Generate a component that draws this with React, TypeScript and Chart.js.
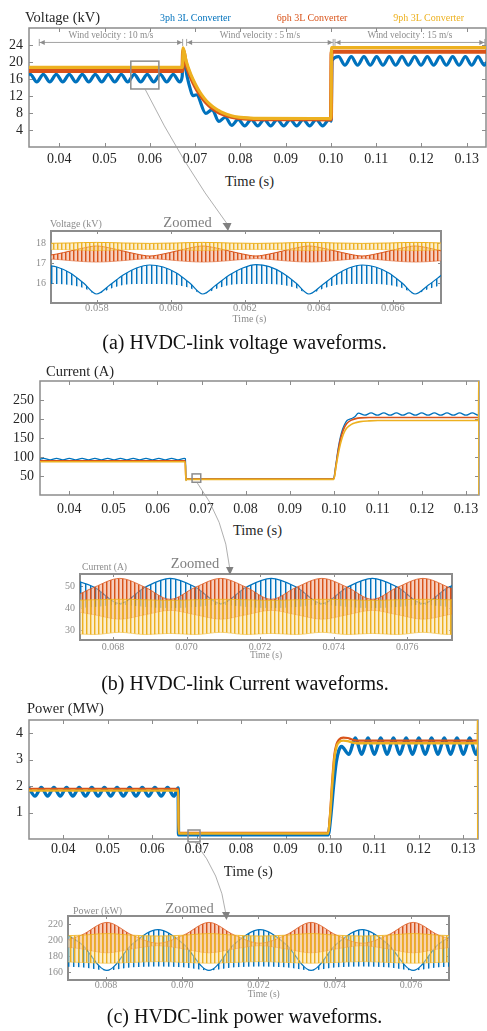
import React, { useEffect, useRef } from "react";
import { Chart, registerables } from "chart.js";
Chart.register(...registerables);

const SERIF = "'Liberation Serif', 'Times New Roman', 'DejaVu Serif', serif";
Chart.defaults.font.family = SERIF;

const BLUE = "#0072BD";
const ORANGE = "#D95319";
const YELLOW = "#EDB120";
const GRAY = "#8c8c8c";
const DARK = "#262626";

// ---------------- data ----------------
const seriesNames = ["3ph 3L Converter", "6ph 3L Converter", "9ph 3L Converter"];

const mainTimeTicks = [0.04, 0.05, 0.06, 0.07, 0.08, 0.09, 0.1, 0.11, 0.12, 0.13];
const voltageTicks = [4, 8, 12, 16, 20, 24];
const currentTicks = [50, 100, 150, 200, 250];
const powerTicks = [1, 2, 3, 4];
const zoomVTimeTicks = [0.058, 0.06, 0.062, 0.064, 0.066];
const zoomVTicks = [16, 17, 18];
const zoomITimeTicks = [0.068, 0.07, 0.072, 0.074, 0.076];
const zoomITicks = [30, 40, 50];
const zoomPTimeTicks = [0.068, 0.07, 0.072, 0.074, 0.076];
const zoomPTicks = [160, 180, 200, 220];

const windSegments = [
  [0.03558, 0.06725],
  [0.06813, 0.1005],
  [0.1009, 0.134],
];
const windLabels = ["Wind velocity : 10 m/s", "Wind velocity : 5 m/s", "Wind velocity : 15 m/s"];
const windArrowLevel = 24.6;
const windTextLevel = 25.75;

// zoom windows marked on main plots: [t0, t1, y0, y1]
const zoomBoxV = [0.0558, 0.062, 13.65, 20.2];
const zoomBoxI = [0.06785, 0.06982, 33.5, 55.5];
const zoomBoxP = [0.06806, 0.07076, -0.11, 0.34];

// HVDC-link voltage (kV)
const vBlue = [
  [0.0333, 17.0], [0.0336, 17.1], [0.03503, 15.3], [0.03647, 17.1], [0.0379, 15.3], [0.03934, 17.1],
  [0.04077, 15.3], [0.04221, 17.1], [0.04364, 15.3], [0.04508, 17.1], [0.04651, 15.3], [0.04795, 17.1],
  [0.04938, 15.3], [0.05082, 17.1], [0.05225, 15.3], [0.05369, 17.1], [0.05512, 15.3], [0.05656, 17.1],
  [0.05799, 15.3], [0.05943, 17.1], [0.06086, 15.3], [0.0623, 17.1], [0.06373, 15.3], [0.06517, 17.1],
  [0.0666, 15.3], [0.06715, 16.6], [0.0673, 21.6], [0.0677, 19.6], [0.0683, 16.3], [0.0689, 13.8],
  [0.06948, 12.1], [0.0703, 12.3], [0.07235, 7.9], [0.07379, 8.8], [0.07522, 6.0], [0.07666, 7.0],
  [0.07809, 5.1], [0.07953, 6.5], [0.08096, 4.95], [0.0824, 6.5], [0.08383, 4.95], [0.08527, 6.5],
  [0.0867, 4.95], [0.08814, 6.5], [0.08957, 4.95], [0.09101, 6.5], [0.09244, 4.95], [0.09388, 6.5],
  [0.09531, 4.95], [0.09675, 6.5], [0.09818, 4.95], [0.09962, 6.5], [0.10005, 6.1], [0.10025, 20.3],
  [0.1017, 21.25], [0.1031, 19.25], [0.1045, 21.25], [0.1059, 19.25], [0.1073, 21.25], [0.1087, 19.25],
  [0.1101, 21.25], [0.1115, 19.25], [0.1129, 21.25], [0.1143, 19.25], [0.1157, 21.25], [0.1171, 19.25],
  [0.1185, 21.25], [0.1199, 19.25], [0.1213, 21.25], [0.1227, 19.25], [0.1241, 21.25], [0.1255, 19.25],
  [0.1269, 21.25], [0.1283, 19.25], [0.1297, 21.25], [0.1311, 19.25], [0.1325, 21.25], [0.1339, 19.25],
  [0.135, 21.0],
];
const vOrange = [
  [0.0333, 17.9], [0.0672, 17.9], [0.06735, 22.7], [0.068, 19.6], [0.069, 16.6], [0.07, 14.3],
  [0.071, 12.5], [0.072, 11.0], [0.073, 9.9], [0.074, 9.0], [0.075, 8.3], [0.076, 7.8], [0.078, 7.1],
  [0.08, 6.75], [0.083, 6.55], [0.1, 6.5], [0.10015, 22.4], [0.1345, 22.4],
];
const vYellow = [
  [0.0333, 18.75], [0.0672, 18.75], [0.06735, 23.3], [0.068, 20.3], [0.069, 17.2], [0.07, 14.9],
  [0.071, 13.0], [0.072, 11.5], [0.073, 10.3], [0.074, 9.4], [0.075, 8.7], [0.076, 8.1], [0.078, 7.35],
  [0.08, 6.95], [0.083, 6.75], [0.1, 6.7], [0.10015, 23.4], [0.1345, 23.4],
];

// zoomed voltage (kV): ripple envelopes
const zvTime = [
  0.05656, 0.05692, 0.05728, 0.05764, 0.05799, 0.05835, 0.05871, 0.05907,
  0.05943, 0.05979, 0.06015, 0.06051, 0.06086, 0.06122, 0.06158, 0.06194,
  0.0623, 0.06266, 0.06302, 0.06338, 0.06373, 0.06409, 0.06445, 0.06481,
  0.06517, 0.06553, 0.06589, 0.06625, 0.0666, 0.06696, 0.06732,
];
const zvBlueHi = [
  16.9, 16.8, 16.5, 16.0, 15.45, 15.9, 16.4, 16.75,
  16.9, 16.8, 16.5, 16.0, 15.45, 15.9, 16.4, 16.75,
  16.92, 16.82, 16.5, 16.0, 15.45, 15.9, 16.4, 16.75,
  16.9, 16.8, 16.5, 16.0, 15.45, 15.9, 16.4,
];
const zvBlueLo = [
  15.95, 15.95, 15.9, 15.75, 15.45, 15.7, 15.9, 15.95,
  15.95, 15.95, 15.9, 15.75, 15.45, 15.7, 15.9, 15.95,
  15.95, 15.95, 15.9, 15.75, 15.45, 15.7, 15.9, 15.95,
  15.95, 15.95, 15.9, 15.75, 15.45, 15.7, 15.9,
];
const zvOrangeHi = [
  17.35, 17.45, 17.6, 17.75, 17.85, 17.75, 17.6, 17.45,
  17.35, 17.45, 17.6, 17.75, 17.85, 17.75, 17.6, 17.45,
  17.35, 17.45, 17.6, 17.75, 17.85, 17.75, 17.6, 17.45,
  17.35, 17.45, 17.6, 17.75, 17.85, 17.75, 17.6,
];
const zvOrangeLo = [
  17.22, 17.18, 17.12, 17.07, 17.05, 17.07, 17.12, 17.18,
  17.22, 17.18, 17.12, 17.07, 17.05, 17.07, 17.12, 17.18,
  17.22, 17.18, 17.12, 17.07, 17.05, 17.07, 17.12, 17.18,
  17.22, 17.18, 17.12, 17.07, 17.05, 17.07, 17.12,
];
const zvYellowHi = [
  17.98, 17.99, 18.0, 18.02, 18.03, 18.02, 18.0, 17.99,
  17.98, 17.99, 18.0, 18.02, 18.03, 18.02, 18.0, 17.99,
  17.98, 17.99, 18.0, 18.02, 18.03, 18.02, 18.0, 17.99,
  17.98, 17.99, 18.0, 18.02, 18.03, 18.02, 18.0,
];
const zvYellowLo = [
  17.68, 17.68, 17.66, 17.64, 17.62, 17.64, 17.66, 17.68,
  17.68, 17.68, 17.66, 17.64, 17.62, 17.64, 17.66, 17.68,
  17.68, 17.68, 17.66, 17.64, 17.62, 17.64, 17.66, 17.68,
  17.68, 17.68, 17.66, 17.64, 17.62, 17.64, 17.66,
];

// HVDC-link current (A)
const iBlue = [
  [0.0333, 94.0], [0.0342, 96.5], [0.03565, 92.5], [0.0371, 96.5], [0.03855, 92.5], [0.04, 96.5],
  [0.04145, 92.5], [0.0429, 96.5], [0.04435, 92.5], [0.0458, 96.5], [0.04725, 92.5], [0.0487, 96.5],
  [0.05015, 92.5], [0.0516, 96.5], [0.05305, 92.5], [0.0545, 96.5], [0.05595, 92.5], [0.0574, 96.5],
  [0.05885, 92.5], [0.0603, 96.5], [0.06175, 92.5], [0.0632, 96.5], [0.06465, 92.5], [0.0661, 96.5],
  [0.06635, 95.5], [0.06645, 39], [0.0666, 42.5], [0.0999, 42.5], [0.1005, 82], [0.101, 122],
  [0.1015, 152], [0.102, 173], [0.1025, 187], [0.103, 196], [0.104, 201], [0.1047, 205], [0.1056, 215.5],
  [0.10703, 210], [0.10847, 216], [0.1099, 210], [0.11134, 216], [0.11277, 210], [0.11421, 216],
  [0.11564, 210], [0.11708, 216], [0.11851, 210], [0.11995, 216], [0.12138, 210], [0.12282, 216],
  [0.12425, 210], [0.12569, 216], [0.12712, 210], [0.12856, 216], [0.12999, 210], [0.13143, 216],
  [0.13286, 210], [0.1335, 213],
];
const iOrange = [
  [0.0333, 90], [0.0663, 90], [0.06645, 40], [0.0666, 42], [0.1, 42], [0.1005, 78], [0.101, 116],
  [0.1015, 146], [0.102, 166], [0.1025, 180], [0.103, 189], [0.104, 197], [0.105, 201], [0.106, 203],
  [0.108, 204], [0.133, 204],
];
const iYellow = [
  [0.0333, 87.5], [0.0663, 87.5], [0.06645, 38], [0.0666, 41], [0.1, 41], [0.1005, 74], [0.101, 107],
  [0.1015, 134], [0.102, 154], [0.1025, 168], [0.103, 177], [0.104, 186], [0.105, 190.5], [0.106, 193],
  [0.108, 195], [0.11, 196], [0.13285, 196], [0.1329, 310], [0.13295, -10],
];

// zoomed current (A): ripple envelopes
const ziTime = [
  0.0668, 0.06749, 0.06818, 0.06887, 0.06955, 0.07024, 0.07093, 0.07162, 0.0723,
  0.07299, 0.07368, 0.07437, 0.07505, 0.07574, 0.07643, 0.07712, 0.0778,
];
const ziBlueHi = [53.5, 49.5, 42.0, 49.5, 53.5, 49.5, 42.0, 49.5, 53.5, 49.5, 42.0, 49.5, 53.5, 49.5, 42.0, 49.5, 53.5];
const ziBlueLo = [40.0, 40.5, 41.5, 40.5, 40.0, 40.5, 41.5, 40.5, 40.0, 40.5, 41.5, 40.5, 40.0, 40.5, 41.5, 40.5, 40.0];
const ziOrangeHi = [44.0, 49.5, 53.5, 49.5, 44.0, 49.5, 53.5, 49.5, 44.0, 49.5, 53.5, 49.5, 44.0, 49.5, 53.5, 49.5, 44.0];
const ziOrangeLo = [39.0, 37.0, 35.0, 37.0, 39.0, 37.0, 35.0, 37.0, 39.0, 37.0, 35.0, 37.0, 39.0, 37.0, 35.0, 37.0, 39.0];
const ziYellowHi = [43.5, 43.8, 44.0, 43.8, 43.5, 43.8, 44.0, 43.8, 43.5, 43.8, 44.0, 43.8, 43.5, 43.8, 44.0, 43.8, 43.5];
const ziYellowLo = [28.5, 28.0, 29.0, 28.0, 28.5, 28.0, 29.0, 28.0, 28.5, 28.0, 29.0, 28.0, 28.5, 28.0, 29.0, 28.0, 28.5];

// HVDC-link power (MW)
const pBlue = [
  [0.0322, 1.95], [0.03363, 1.62], [0.03505, 1.95], [0.03647, 1.62], [0.03789, 1.95], [0.03931, 1.62],
  [0.04073, 1.95], [0.04215, 1.62], [0.04357, 1.95], [0.04499, 1.62], [0.04641, 1.95], [0.04783, 1.62],
  [0.04925, 1.95], [0.05067, 1.62], [0.05209, 1.95], [0.05351, 1.62], [0.05493, 1.95], [0.05635, 1.62],
  [0.05777, 1.95], [0.05919, 1.62], [0.06061, 1.95], [0.06203, 1.62], [0.06345, 1.95], [0.06487, 1.62],
  [0.06585, 1.93], [0.06592, 0.16], [0.0996, 0.16], [0.1002, 0.9], [0.1008, 2.0], [0.1014, 2.9],
  [0.102, 3.35], [0.1026, 3.5], [0.10427, 3.2], [0.1057, 3.82], [0.10713, 3.2], [0.10856, 3.82],
  [0.10999, 3.2], [0.11142, 3.82], [0.11285, 3.2], [0.11428, 3.82], [0.11571, 3.2], [0.11714, 3.82],
  [0.11857, 3.2], [0.12, 3.82], [0.12143, 3.2], [0.12286, 3.82], [0.12429, 3.2], [0.12572, 3.82],
  [0.12715, 3.2], [0.12858, 3.82], [0.13001, 3.2], [0.13144, 3.82], [0.13287, 3.2], [0.1338, 3.75],
];
const pOrange = [
  [0.0322, 1.9], [0.06588, 1.9], [0.06593, 0.23], [0.0996, 0.23], [0.1, 0.9], [0.1005, 2.2], [0.101, 3.2],
  [0.1015, 3.6], [0.102, 3.75], [0.103, 3.83], [0.104, 3.82], [0.105, 3.76], [0.106, 3.72], [0.1333, 3.72],
];
const pYellow = [
  [0.0322, 1.83], [0.06588, 1.83], [0.06593, 0.21], [0.0996, 0.21], [0.1, 0.8], [0.1005, 2.0], [0.101, 3.05],
  [0.1015, 3.5], [0.102, 3.65], [0.103, 3.72], [0.104, 3.7], [0.105, 3.65], [0.106, 3.62], [0.13325, 3.62],
  [0.1333, 4.7], [0.13335, -0.1],
];

// zoomed power (kW): ripple envelopes
const zpTime = [
  0.06668, 0.06735, 0.06802, 0.06869, 0.06936, 0.07003, 0.0707, 0.07137, 0.07204,
  0.07271, 0.07338, 0.07405, 0.07472, 0.07539, 0.07606, 0.07673, 0.0774,
];
const zpBlueHi = [213, 195, 162, 195, 213, 195, 162, 195, 213, 195, 162, 195, 213, 195, 162, 195, 213];
const zpBlueLo = [167, 166, 162, 166, 167, 166, 162, 166, 167, 166, 162, 166, 167, 166, 162, 166, 167];
const zpOrangeHi = [196, 206, 222, 206, 196, 206, 222, 206, 196, 206, 222, 206, 196, 206, 222, 206, 196];
const zpOrangeLo = [193, 189, 184, 189, 193, 189, 184, 189, 193, 189, 184, 189, 193, 189, 184, 189, 193];
const zpYellowHi = [205, 206, 208, 206, 205, 206, 208, 206, 205, 206, 208, 206, 205, 206, 208, 206, 205];
const zpYellowLo = [173, 172, 171, 172, 173, 172, 171, 172, 173, 172, 171, 172, 173, 172, 171, 172, 173];

// ---------------- helpers ----------------
const P = (pts: number[][]) => pts.map(([x, y]) => ({ x, y }));
const Z = (ts: number[], vs: number[]) => ts.map((x, i) => ({ x, y: vs[i] }));

function line(data: any[], color: string, width: number, order: number) {
  return {
    data,
    borderColor: color,
    borderWidth: width,
    pointRadius: 0,
    fill: false,
    cubicInterpolationMode: "monotone",
    order,
  };
}

function stripe(cols: string[]) {
  const c = document.createElement("canvas");
  c.width = cols.length;
  c.height = 4;
  const g = c.getContext("2d")!;
  cols.forEach((col, i) => {
    g.fillStyle = col;
    g.fillRect(i, 0, 1, 4);
  });
  return g.createPattern(c, "repeat");
}

function patterns() {
  return {
    blue: stripe([BLUE, "rgba(0,114,189,0.45)", "rgba(0,114,189,0.04)", "rgba(0,114,189,0.04)", "rgba(0,114,189,0.04)"]),
    orange: stripe([ORANGE, "rgba(217,83,25,0.6)", "rgba(240,165,135,0.55)", "rgba(240,165,135,0.55)"]),
    yellow: stripe([YELLOW, "rgba(237,177,32,0.55)", "rgba(250,222,155,0.5)", "rgba(250,222,155,0.5)"]),
  };
}

function band(hi: any[], lo: any[], color: string, pattern: any, order: number, wHi: number, wLo: number) {
  return [
    { ...line(hi, color, wHi, order), fill: "+1", backgroundColor: pattern },
    { ...line(lo, color, wLo, order) },
  ];
}

function drawRect(chart: any, r: number[]) {
  const { ctx } = chart;
  const xs = chart.scales.x;
  const ys = chart.scales.y;
  const x0 = xs.getPixelForValue(r[0]);
  const x1 = xs.getPixelForValue(r[1]);
  const y0 = ys.getPixelForValue(r[2]);
  const y1 = ys.getPixelForValue(r[3]);
  ctx.save();
  ctx.strokeStyle = GRAY;
  ctx.lineWidth = 1.5;
  ctx.strokeRect(Math.min(x0, x1), Math.min(y0, y1), Math.abs(x1 - x0), Math.abs(y1 - y0));
  ctx.restore();
}

function drawWind(chart: any) {
  const { ctx } = chart;
  const xs = chart.scales.x;
  const ys = chart.scales.y;
  const ya = ys.getPixelForValue(windArrowLevel);
  const yt = ys.getPixelForValue(windTextLevel);
  ctx.save();
  ctx.strokeStyle = GRAY;
  ctx.fillStyle = GRAY;
  ctx.lineWidth = 0.8;
  windSegments.forEach(([t0, t1], i) => {
    const x0 = xs.getPixelForValue(t0);
    const x1 = xs.getPixelForValue(t1);
    ctx.beginPath();
    ctx.moveTo(x0, ya);
    ctx.lineTo(x1, ya);
    ctx.moveTo(x0, ya - 3.5);
    ctx.lineTo(x0, ya + 3.5);
    ctx.moveTo(x1, ya - 3.5);
    ctx.lineTo(x1, ya + 3.5);
    ctx.stroke();
    ctx.beginPath();
    ctx.moveTo(x0 + 0.5, ya);
    ctx.lineTo(x0 + 5.5, ya - 2.5);
    ctx.lineTo(x0 + 5.5, ya + 2.5);
    ctx.closePath();
    ctx.fill();
    ctx.beginPath();
    ctx.moveTo(x1 - 0.5, ya);
    ctx.lineTo(x1 - 5.5, ya - 2.5);
    ctx.lineTo(x1 - 5.5, ya + 2.5);
    ctx.closePath();
    ctx.fill();
    ctx.font = `9.3px ${SERIF}`;
    ctx.textAlign = "center";
    ctx.textBaseline = "alphabetic";
    ctx.fillText(windLabels[i], (x0 + x1) / 2, yt);
  });
  ctx.restore();
}

type Spec = {
  rect: number[];
  yW: number;
  xH: number;
  pt: number;
  pr: number;
  xMin: number;
  xMax: number;
  yMin: number;
  yMax: number;
  xTicks: number[];
  yTicks: number[];
  xDec: number;
  xFont: number;
  yFont: number;
  xPad: number;
  yPad: number;
  tickColor: string;
  boxWidth: number;
  tickLen: number;
  datasets: () => any[];
  extra?: (chart: any) => void;
};

function geom(s: Spec) {
  const [l, t, r, b] = s.rect;
  return { left: l - s.yW, top: t - s.pt, width: r - l + s.yW + s.pr, height: b - t + s.pt + s.xH };
}

function Panel({ spec }: { spec: Spec }) {
  const ref = useRef<HTMLCanvasElement>(null);
  const g = geom(spec);
  useEffect(() => {
    const boxPlugin = {
      id: "mbox",
      beforeDatasetsDraw(chart: any) {
        const { ctx, chartArea: a } = chart;
        const xs = chart.scales.x;
        const ys = chart.scales.y;
        const L = spec.tickLen;
        ctx.save();
        ctx.strokeStyle = GRAY;
        ctx.lineWidth = spec.boxWidth;
        ctx.strokeRect(a.left, a.top, a.right - a.left, a.bottom - a.top);
        ctx.lineWidth = 1;
        ctx.beginPath();
        for (const v of spec.xTicks) {
          const p = Math.round(xs.getPixelForValue(v)) + 0.5;
          ctx.moveTo(p, a.bottom);
          ctx.lineTo(p, a.bottom - L);
          ctx.moveTo(p, a.top);
          ctx.lineTo(p, a.top + L);
        }
        for (const v of spec.yTicks) {
          const p = Math.round(ys.getPixelForValue(v)) + 0.5;
          ctx.moveTo(a.left, p);
          ctx.lineTo(a.left + L, p);
          ctx.moveTo(a.right, p);
          ctx.lineTo(a.right - L, p);
        }
        ctx.stroke();
        ctx.restore();
      },
      afterDatasetsDraw(chart: any) {
        if (spec.extra) spec.extra(chart);
      },
    };
    const chart = new Chart(ref.current as HTMLCanvasElement, {
      type: "line",
      data: { datasets: spec.datasets() },
      options: {
        animation: false,
        responsive: false,
        maintainAspectRatio: false,
        devicePixelRatio: 1,
        layout: { padding: { top: spec.pt, right: spec.pr, left: 0, bottom: 0 } },
        plugins: { legend: { display: false }, tooltip: { enabled: false }, title: { display: false } },
        elements: { point: { radius: 0 } },
        scales: {
          x: {
            type: "linear",
            min: spec.xMin,
            max: spec.xMax,
            grid: { display: false, drawTicks: false },
            border: { display: false },
            ticks: {
              font: { family: SERIF, size: spec.xFont },
              color: spec.tickColor,
              padding: spec.xPad,
              maxRotation: 0,
              minRotation: 0,
              autoSkip: false,
              callback: (v: any) => Number(v).toFixed(spec.xDec),
            },
            afterBuildTicks: (s: any) => {
              s.ticks = spec.xTicks.map((v) => ({ value: v }));
            },
            afterFit: (s: any) => {
              s.height = spec.xH;
              s.paddingLeft = 0;
              s.paddingRight = 0;
            },
          },
          y: {
            type: "linear",
            min: spec.yMin,
            max: spec.yMax,
            grid: { display: false, drawTicks: false },
            border: { display: false },
            ticks: {
              font: { family: SERIF, size: spec.yFont },
              color: spec.tickColor,
              padding: spec.yPad,
              autoSkip: false,
              callback: (v: any) => String(v),
            },
            afterBuildTicks: (s: any) => {
              s.ticks = spec.yTicks.map((v) => ({ value: v }));
            },
            afterFit: (s: any) => {
              s.width = spec.yW;
              s.paddingTop = 0;
              s.paddingBottom = 0;
            },
          },
        },
      } as any,
      plugins: [boxPlugin],
    });
    return () => chart.destroy();
  }, []);
  return (
    <canvas
      ref={ref}
      width={g.width}
      height={g.height}
      style={{ position: "absolute", left: g.left, top: g.top, width: g.width, height: g.height }}
    />
  );
}

function Txt(props: { x: number; y: number; size: number; color?: string; center?: boolean; children: any }) {
  const { x, y, size, color = DARK, center = false, children } = props;
  const style: any = {
    position: "absolute",
    top: y - 0.8375 * size,
    left: x,
    fontFamily: SERIF,
    fontSize: size,
    lineHeight: `${size}px`,
    color,
    whiteSpace: "nowrap",
  };
  if (center) style.transform = "translateX(-50%)";
  return <div style={style}>{children}</div>;
}

// ---------------- chart specs ----------------
const mainCommon = { tickColor: DARK, boxWidth: 1.5, tickLen: 4, xDec: 2, xFont: 14, yFont: 14, yPad: 6 };
const zoomCommon = { tickColor: GRAY, boxWidth: 2, tickLen: 3, xDec: 3, xFont: 10, yFont: 10, yPad: 5 };

const specV: Spec = {
  ...mainCommon,
  rect: [29, 28, 486, 147], yW: 29, xH: 26, pt: 4, pr: 1, xPad: 4,
  xMin: 0.03331, xMax: 0.13426, yMin: 0, yMax: 28, xTicks: mainTimeTicks, yTicks: voltageTicks,
  datasets: () => [
    line(P(vYellow), YELLOW, 3.2, 1),
    line(P(vOrange), ORANGE, 4, 2),
    line(P(vBlue), BLUE, 3.2, 3),
  ],
  extra: (c) => {
    drawWind(c);
    drawRect(c, zoomBoxV);
  },
};

const specZV: Spec = {
  ...zoomCommon,
  rect: [51, 231, 441, 303], yW: 30, xH: 16, pt: 4, pr: 6, xPad: -1, xFont: 10.5,
  xMin: 0.05676, xMax: 0.0673, yMin: 15.0, yMax: 18.6, xTicks: zoomVTimeTicks, yTicks: zoomVTicks,
  datasets: () => {
    const pt = patterns();
    return [
      ...band(Z(zvTime, zvYellowHi), Z(zvTime, zvYellowLo), YELLOW, pt.yellow, 1, 1, 0.6),
      ...band(Z(zvTime, zvOrangeHi), Z(zvTime, zvOrangeLo), ORANGE, pt.orange, 2, 1, 0.6),
      ...band(Z(zvTime, zvBlueHi), Z(zvTime, zvBlueLo), BLUE, pt.blue, 3, 1.2, 0),
    ];
  },
};

const specI: Spec = {
  ...mainCommon,
  rect: [40, 381, 479, 495], yW: 38, xH: 26, pt: 4, pr: 6, xPad: 6,
  xMin: 0.03335, xMax: 0.13295, yMin: 0, yMax: 300, xTicks: mainTimeTicks, yTicks: currentTicks,
  datasets: () => [
    line(P(iYellow), YELLOW, 1.6, 1),
    line(P(iOrange), ORANGE, 1.6, 2),
    line(P(iBlue), BLUE, 1.3, 3),
  ],
  extra: (c) => drawRect(c, zoomBoxI),
};

const specZI: Spec = {
  ...zoomCommon,
  rect: [80, 574, 452, 640], yW: 30, xH: 16, pt: 4, pr: 6, xPad: 1,
  xMin: 0.0671, xMax: 0.07722, yMin: 25.5, yMax: 55.5, xTicks: zoomITimeTicks, yTicks: zoomITicks,
  datasets: () => {
    const pt = patterns();
    return [
      ...band(Z(ziTime, ziYellowHi), Z(ziTime, ziYellowLo), YELLOW, pt.yellow, 1, 0.8, 0.6),
      ...band(Z(ziTime, ziOrangeHi), Z(ziTime, ziOrangeLo), ORANGE, pt.orange, 2, 0.8, 0.5),
      ...band(Z(ziTime, ziBlueHi), Z(ziTime, ziBlueLo), BLUE, pt.blue, 3, 1.2, 0),
    ];
  },
};

const specP: Spec = {
  ...mainCommon,
  rect: [29, 720, 478, 839], yW: 29, xH: 26, pt: 4, pr: 6, xPad: 2,
  xMin: 0.03228, xMax: 0.13331, yMin: 0, yMax: 4.5, xTicks: mainTimeTicks, yTicks: powerTicks,
  datasets: () => [
    line(P(pYellow), YELLOW, 2.4, 1),
    line(P(pOrange), ORANGE, 2.2, 2),
    line(P(pBlue), BLUE, 3.4, 3),
  ],
  extra: (c) => drawRect(c, zoomBoxP),
};

const specZP: Spec = {
  ...zoomCommon,
  rect: [68, 916, 449, 980], yW: 30, xH: 16, pt: 4, pr: 6, xPad: -1,
  xMin: 0.067, xMax: 0.077, yMin: 150, yMax: 230, xTicks: zoomPTimeTicks, yTicks: zoomPTicks,
  datasets: () => {
    const pt = patterns();
    return [
      ...band(Z(zpTime, zpYellowHi), Z(zpTime, zpYellowLo), YELLOW, pt.yellow, 1, 0.8, 0.6),
      ...band(Z(zpTime, zpOrangeHi), Z(zpTime, zpOrangeLo), ORANGE, pt.orange, 2, 0.8, 0.5),
      ...band(Z(zpTime, zpBlueHi), Z(zpTime, zpBlueLo), BLUE, pt.blue, 3, 1.2, 0),
    ];
  },
};

function Connectors() {
  const st = { stroke: "#9a9a9a", strokeWidth: 0.8, fill: "none" };
  return (
    <svg width={487} height={1031} style={{ position: "absolute", left: 0, top: 0, pointerEvents: "none" }}>
      <path d="M145 89 Q 183 165 226.5 223" {...st} />
      <polygon points="222.5,223 231.5,223 228,231" fill="#808080" />
      <path d="M197 482.5 Q 225 520 229.5 567" {...st} />
      <polygon points="226,567 233.5,567 230,575" fill="#808080" />
      <path d="M195 842 Q 221 875 225.5 912" {...st} />
      <polygon points="222,912 230,912 226.5,920" fill="#808080" />
    </svg>
  );
}

export default function App() {
  return (
    <div
      style={{
        position: "absolute",
        left: 0,
        top: 0,
        width: 487,
        height: 1031,
        overflow: "hidden",
        background: "#ffffff",
      }}
    >
      <Panel spec={specV} />
      <Panel spec={specZV} />
      <Panel spec={specI} />
      <Panel spec={specZI} />
      <Panel spec={specP} />
      <Panel spec={specZP} />

      <Txt x={25} y={22.5} size={14.5}>Voltage (kV)</Txt>
      <Txt x={160} y={21} size={10} color={BLUE}>{seriesNames[0]}</Txt>
      <Txt x={276.7} y={21} size={10} color={ORANGE}>{seriesNames[1]}</Txt>
      <Txt x={393.3} y={21} size={10} color={YELLOW}>{seriesNames[2]}</Txt>
      <Txt x={249.5} y={186.5} size={14.5} center>Time (s)</Txt>

      <Txt x={50} y={227} size={10} color={GRAY}>Voltage (kV)</Txt>
      <Txt x={187.5} y={227} size={14.5} color="#7f7f7f" center>Zoomed</Txt>
      <Txt x={249.5} y={322} size={10} color={GRAY} center>Time (s)</Txt>
      <Txt x={244.5} y={348.5} size={20} color="#111" center>(a) HVDC-link voltage waveforms.</Txt>

      <Txt x={46} y={376} size={14.5}>Current (A)</Txt>
      <Txt x={257.5} y={535} size={14.5} center>Time (s)</Txt>

      <Txt x={82} y={570} size={9.6} color={GRAY}>Current (A)</Txt>
      <Txt x={195} y={568.3} size={14.5} color="#7f7f7f" center>Zoomed</Txt>
      <Txt x={266} y={659} size={9.5} color={GRAY} center>Time (s)</Txt>
      <Txt x={245} y={689.3} size={20} color="#111" center>(b) HVDC-link Current waveforms.</Txt>

      <Txt x={27} y={713.5} size={14.5}>Power (MW)</Txt>
      <Txt x={248.3} y={876.5} size={14.5} center>Time (s)</Txt>

      <Txt x={73} y={914} size={10} color={GRAY}>Power (kW)</Txt>
      <Txt x={189.5} y={912.7} size={14.5} color="#7f7f7f" center>Zoomed</Txt>
      <Txt x={263.7} y={997.5} size={9.5} color={GRAY} center>Time (s)</Txt>
      <Txt x={244.5} y={1023} size={20} color="#111" center>(c) HVDC-link power waveforms.</Txt>

      <Connectors />
    </div>
  );
}
